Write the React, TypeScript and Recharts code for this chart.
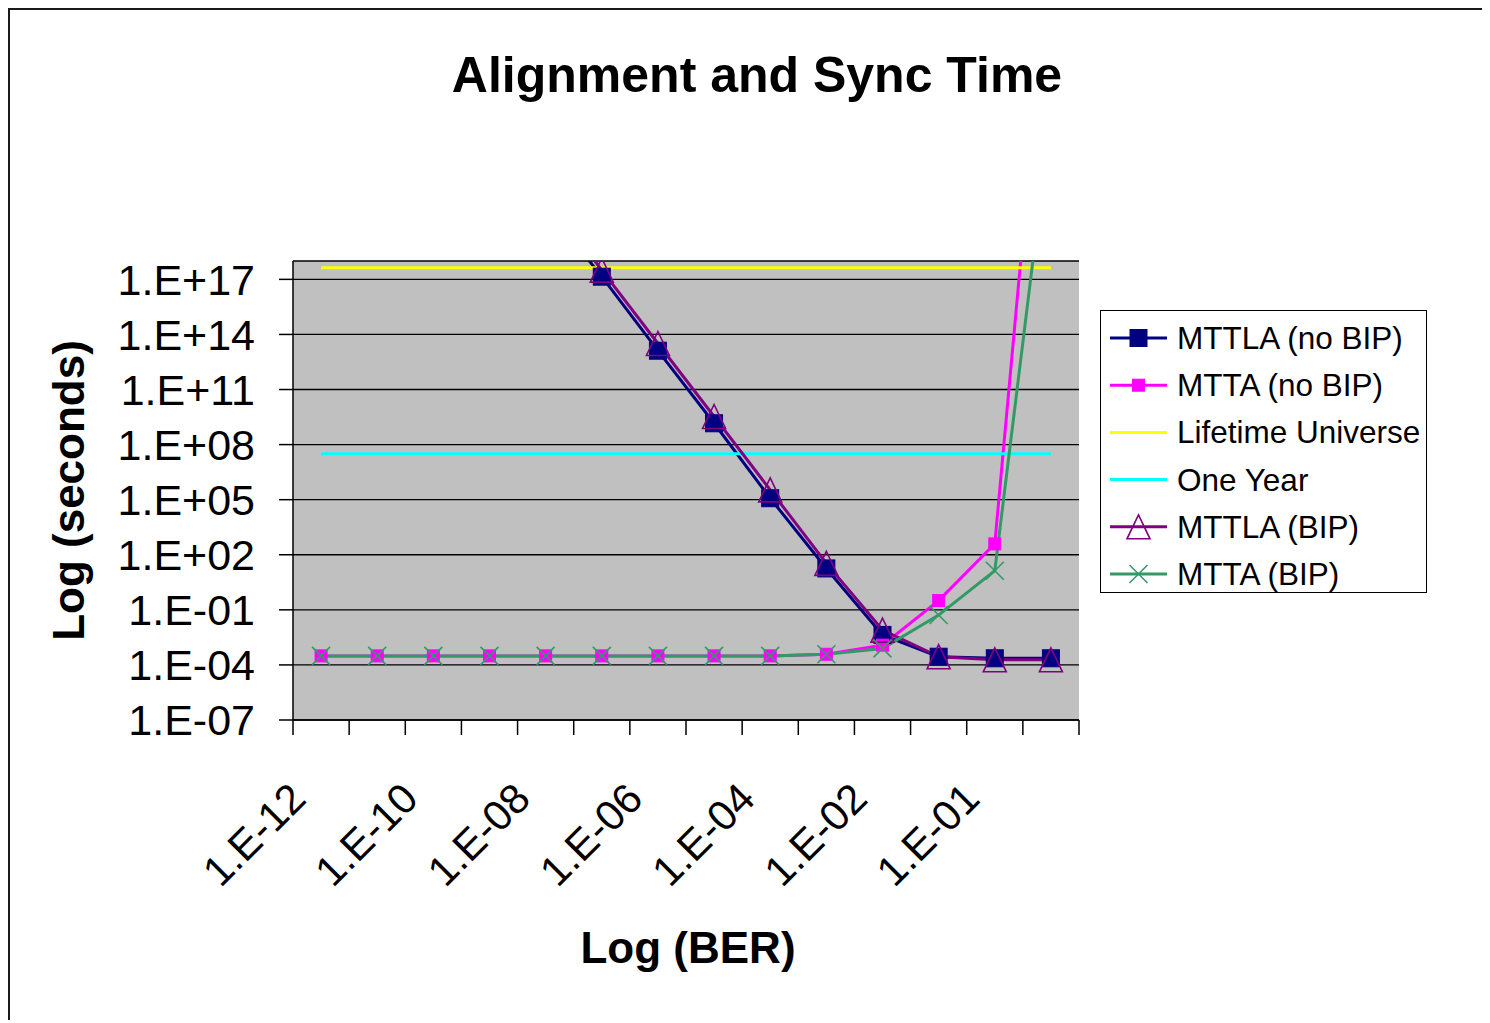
import React from 'react';
import { LineChart, Line, XAxis, YAxis, CartesianGrid, Legend, Label } from 'recharts';

const FONT = "'Liberation Sans', Arial, sans-serif";

// ---- data ----
const categories = ['1.E-12', '1.E-11', '1.E-10', '1.E-09', '1.E-08', '1.E-07', '1.E-06', '1.E-05', '1.E-04', '1.E-03', '1.E-02', '5.E-02', '1.E-01', '5.E-01'];
const mttlaNoBip = [null, null, null, null, 1e21, 1.4e17, 1.3e13, 1.45e9, 1.2e5, 18, 4.3e-3, 2.8e-4, 2.3e-4, 2.3e-4];
const mttaNoBip = [3.1e-4, 3.1e-4, 3.1e-4, 3.1e-4, 3.1e-4, 3.1e-4, 3.1e-4, 3.1e-4, 3.1e-4, 3.8e-4, 1.2e-3, 0.32, 390, 1e36];
const lifetimeUniverse = [4.3e17, 4.3e17, 4.3e17, 4.3e17, 4.3e17, 4.3e17, 4.3e17, 4.3e17, 4.3e17, 4.3e17, 4.3e17, 4.3e17, 4.3e17, 4.3e17];
const oneYear = [3.15e7, 3.15e7, 3.15e7, 3.15e7, 3.15e7, 3.15e7, 3.15e7, 3.15e7, 3.15e7, 3.15e7, 3.15e7, 3.15e7, 3.15e7, 3.15e7];
const mttlaBip = [null, null, null, null, 3e21, 3.2e17, 3.2e13, 3.4e9, 3.4e5, 34, 7.9e-3, 2.8e-4, 1.9e-4, 1.9e-4];
const mttaBip = [3.1e-4, 3.1e-4, 3.1e-4, 3.1e-4, 3.1e-4, 3.1e-4, 3.1e-4, 3.1e-4, 3.1e-4, 3.8e-4, 7.9e-4, 0.052, 13.5, 1e26];
const yTicks = [1e-7, 1e-4, 1e-1, 1e2, 1e5, 1e8, 1e11, 1e14, 1e17];
const yDomain = [1e-7, 1e18];

const seriesNames = ['MTTLA (no BIP)', 'MTTA (no BIP)', 'Lifetime Universe', 'One Year', 'MTTLA (BIP)', 'MTTA (BIP)'];
const seriesKeys = ['mttlaNoBip', 'mttaNoBip', 'lifetimeUniverse', 'oneYear', 'mttlaBip', 'mttaBip'];
const seriesColors = ['#000080', '#FF00FF', '#FFFF00', '#00FFFF', '#800080', '#339966'];
const seriesMarkers = ['bigSquare', 'smallSquare', 'none', 'none', 'triangle', 'cross'];

const data = categories.map((ber, i) => ({
  ber,
  mttlaNoBip: mttlaNoBip[i],
  mttaNoBip: mttaNoBip[i],
  lifetimeUniverse: lifetimeUniverse[i],
  oneYear: oneYear[i],
  mttlaBip: mttlaBip[i],
  mttaBip: mttaBip[i],
}));

// ---- layout ----
const CHART_W = 1480;
const CHART_H = 1010;
const PLOT_LEFT = 283;
const PLOT_TOP = 251;
const PLOT_W = 786;
const PLOT_H = 459;
const X_AXIS_H = 150;
const HALF_BAND = PLOT_W / categories.length / 2;

function marker(kind: string, cx: number, cy: number, color: string, key?: any) {
  if (kind === 'bigSquare') {
    return <rect key={key} x={cx - 8.5} y={cy - 8.5} width={17} height={17} fill={color} stroke={color} strokeWidth={1} />;
  }
  if (kind === 'smallSquare') {
    return <rect key={key} x={cx - 6} y={cy - 6} width={12} height={12} fill={color} stroke={color} strokeWidth={1} />;
  }
  if (kind === 'triangle') {
    return (
      <polygon
        key={key}
        points={`${cx},${cy - 12} ${cx - 11.5},${cy + 12} ${cx + 11.5},${cy + 12}`}
        fill="none"
        stroke={color}
        strokeWidth={1.6}
      />
    );
  }
  if (kind === 'cross') {
    return (
      <g key={key}>
        <line x1={cx - 9} y1={cy - 9} x2={cx + 9} y2={cy + 9} stroke={color} strokeWidth={1.6} />
        <line x1={cx - 9} y1={cy + 9} x2={cx + 9} y2={cy - 9} stroke={color} strokeWidth={1.6} />
      </g>
    );
  }
  return <g key={key} />;
}

function makeDot(kind: string, color: string) {
  return (p: any) => {
    const k = `${kind}-${p.index}`;
    if (p.cx == null || p.cy == null || p.value == null || (Array.isArray(p.value) && p.value[1] == null)) {
      return <g key={k} />;
    }
    return marker(kind, p.cx, p.cy, color, k);
  };
}

function XTick(props: any) {
  const { x, y, index, payload } = props;
  const tx = x - 13;
  const ty = y + 81;
  return (
    <g>
      <line x1={x - HALF_BAND} x2={x - HALF_BAND} y1={y} y2={y + 15} stroke="#000" strokeWidth={1.5} />
      {index === categories.length - 1 && (
        <line x1={x + HALF_BAND} x2={x + HALF_BAND} y1={y} y2={y + 15} stroke="#000" strokeWidth={1.5} />
      )}
      {index % 2 === 0 && (
        <text
          x={tx}
          y={ty}
          textAnchor="end"
          fontSize={42}
          fontFamily={FONT}
          fill="#000"
          transform={`rotate(-45, ${tx}, ${ty})`}
        >
          {payload.value}
        </text>
      )}
    </g>
  );
}

function formatExp(v: number) {
  const e = Math.round(Math.log10(v));
  const a = Math.abs(e);
  return `1.E${e >= 0 ? '+' : '-'}${a < 10 ? '0' + a : a}`;
}

function renderLegend() {
  const w = 327;
  const h = 283;
  return (
    <svg width={w} height={h} style={{ display: 'block' }}>
      <rect x={0.5} y={0.5} width={w - 1} height={h - 1} fill="#fff" stroke="#000" strokeWidth={1} />
      {seriesNames.map((name, i) => {
        const cy = 28 + i * 47.2;
        return (
          <g key={name}>
            <line x1={10} x2={67} y1={cy} y2={cy} stroke={seriesColors[i]} strokeWidth={3} />
            {marker(seriesMarkers[i], 38.5, cy, seriesColors[i])}
            <text x={77} y={cy + 11} fontSize={31.5} fontFamily={FONT} fill="#000">
              {name}
            </text>
          </g>
        );
      })}
    </svg>
  );
}

const YTitle = (props: any) => {
  const vb = props.viewBox || { x: 0, y: PLOT_TOP, width: PLOT_LEFT, height: PLOT_H };
  const x = vb.x + 74;
  const y = vb.y + vb.height / 2;
  return (
    <text x={x} y={y} textAnchor="middle" fontSize={44} fontWeight="bold" fontFamily={FONT} fill="#000" transform={`rotate(-90, ${x}, ${y})`}>
      Log (seconds)
    </text>
  );
};

const XTitle = (props: any) => {
  const vb = props.viewBox || { x: PLOT_LEFT, y: PLOT_TOP + PLOT_H, width: PLOT_W, height: X_AXIS_H };
  const x = vb.x + vb.width / 2 + 2;
  const y = vb.y + 243;
  return (
    <text x={x} y={y} textAnchor="middle" fontSize={44} fontWeight="bold" fontFamily={FONT} fill="#000">
      Log (BER)
    </text>
  );
};

export default function App() {
  return (
    <div
      style={{
        position: 'relative',
        width: CHART_W,
        height: CHART_H,
        borderTop: '2px solid #1a1a1a',
        borderLeft: '2px solid #1a1a1a',
        background: '#fff',
        fontFamily: FONT,
      }}
    >
      <LineChart
        width={CHART_W}
        height={CHART_H}
        data={data}
        margin={{ top: PLOT_TOP, right: CHART_W - PLOT_LEFT - PLOT_W, bottom: CHART_H - PLOT_TOP - PLOT_H - X_AXIS_H, left: 0 }}
      >
        <CartesianGrid vertical={false} stroke="#000" strokeWidth={1.3} fill="#C0C0C0" fillOpacity={1} />
        <XAxis
          dataKey="ber"
          type="category"
          height={X_AXIS_H}
          interval={0}
          padding={{ left: HALF_BAND, right: HALF_BAND }}
          tickLine={false}
          tickSize={0}
          tickMargin={0}
          axisLine={{ stroke: '#000', strokeWidth: 1.5 }}
          tick={<XTick />}
        >
          <Label content={<XTitle />} />
        </XAxis>
        <XAxis xAxisId="top" orientation="top" type="number" domain={[0, 1]} height={0} tick={false} tickLine={false} axisLine={{ stroke: '#808080', strokeWidth: 2 }} />
        <YAxis
          scale="log"
          type="number"
          domain={yDomain}
          allowDataOverflow
          ticks={yTicks}
          interval={0}
          width={PLOT_LEFT}
          tickSize={14}
          tickMargin={24}
          tickFormatter={formatExp}
          tick={{ fontSize: 43, fill: '#000', fontFamily: FONT }}
          tickLine={{ stroke: '#000', strokeWidth: 1.5 }}
          axisLine={{ stroke: '#000', strokeWidth: 1.5 }}
        >
          <Label content={<YTitle />} />
        </YAxis>
        <YAxis yAxisId="right" orientation="right" type="number" domain={[0, 1]} width={0} tick={false} tickLine={false} axisLine={{ stroke: '#808080', strokeWidth: 2 }} />
        {seriesKeys.map((k, i) => (
          <Line
            key={k}
            dataKey={k}
            name={seriesNames[i]}
            type="linear"
            stroke={seriesColors[i]}
            strokeWidth={3}
            dot={seriesMarkers[i] === 'none' ? false : makeDot(seriesMarkers[i], seriesColors[i])}
            activeDot={false}
            isAnimationActive={false}
            connectNulls={false}
          />
        ))}
        <Legend
          layout="horizontal"
          verticalAlign="middle"
          align="center"
          content={renderLegend}
          wrapperStyle={{ left: 1090, top: 300, width: 327, height: 283 }}
        />
      </LineChart>
      <div
        style={{
          position: 'absolute',
          left: 247,
          top: 40,
          width: 1000,
          textAlign: 'center',
          fontSize: 50,
          lineHeight: '50px',
          fontWeight: 'bold',
          fontFamily: FONT,
          color: '#000',
          whiteSpace: 'nowrap',
        }}
      >
        Alignment and Sync Time
      </div>
    </div>
  );
}
